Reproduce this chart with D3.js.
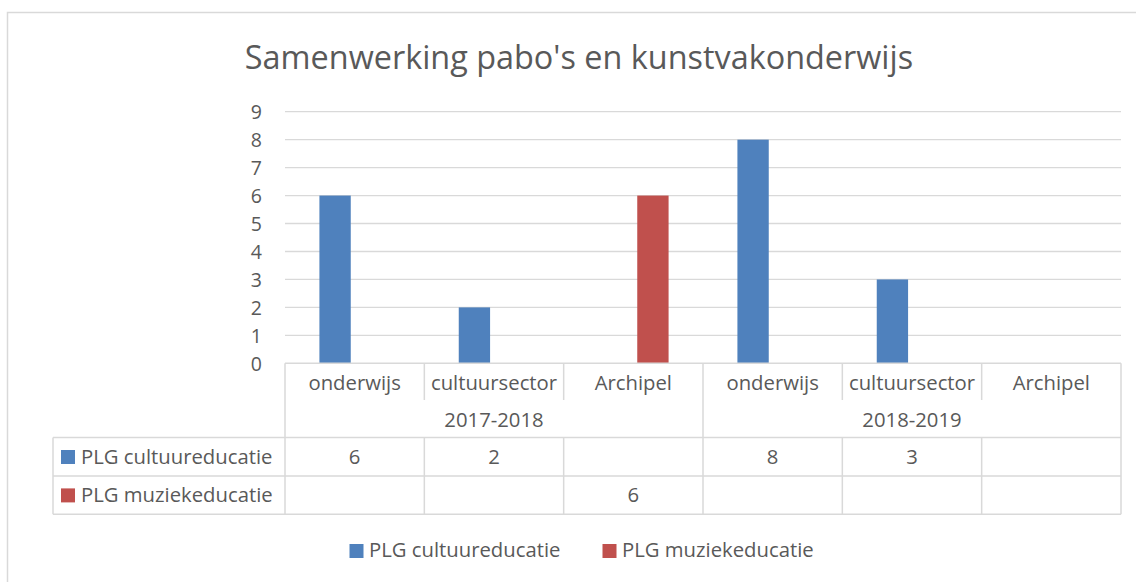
<!DOCTYPE html>
<meta charset="UTF-8">
<style>
body { margin: 0; background: #fff; }
text { font-family: "Open Sans", Lato, sans-serif; fill: #595959; }
.grid line { stroke: #d9d9d9; stroke-width: 1.3px; }
.tbl { stroke: #d9d9d9; stroke-width: 1.5px; fill: none; }
</style>
<body>
<script src="https://d3js.org/d3.v7.min.js"></script>
<script>

// chart data
var years = ["2017-2018", "2018-2019"];
var categories = ["onderwijs", "cultuursector", "Archipel", "onderwijs", "cultuursector", "Archipel"];
var seriesNames = ["PLG cultuureducatie", "PLG muziekeducatie"];
var cultuurValues = [6, 2, null, 8, 3, null];
var muziekValues = [null, null, 6, null, null, null];
var yTicks = [0, 1, 2, 3, 4, 5, 6, 7, 8, 9];
var colors = ["#4f81bd", "#c0504d"];

var seriesValues = [cultuurValues, muziekValues];

var W = 1136, H = 582;
var plot = {left: 285, right: 1121, top: 111.7, bottom: 363.3};
var fs = "20.3px";

var svg = d3.select("body").append("svg")
    .attr("width", W)
    .attr("height", H);

// chart border
svg.append("rect")
    .attr("x", 7.5).attr("y", 12.5)
    .attr("width", W + 10).attr("height", H + 10)
    .attr("fill", "none").attr("stroke", "#d9d9d9").attr("stroke-width", 1.5);

svg.append("text")
    .attr("x", 579).attr("y", 69)
    .attr("text-anchor", "middle")
    .style("font-size", "32.4px")
    .text("Samenwerking pabo's en kunstvakonderwijs");

var y = d3.scaleLinear().domain([0, 9]).range([plot.bottom, plot.top]);

var x = d3.scaleBand()
    .domain(d3.range(categories.length))
    .range([plot.left, plot.right])
    .padding(0);

var cw = x.bandwidth();
var x1 = d3.scaleBand()
    .domain(d3.range(seriesNames.length))
    .range([cw * 0.247, cw * (1 - 0.247)])
    .paddingInner(0.2);

// gridlines
svg.append("g").attr("class", "grid")
  .selectAll("line")
  .data(yTicks.slice(1))
  .join("line")
    .attr("x1", plot.left).attr("x2", plot.right)
    .attr("y1", function(d) { return y(d); })
    .attr("y2", function(d) { return y(d); });

// y axis labels
var yAxis = d3.axisLeft(y).tickValues(yTicks).tickSize(0).tickPadding(23);
var ya = svg.append("g")
    .attr("transform", "translate(" + plot.left + ",0)")
    .call(yAxis);
ya.select(".domain").remove();
ya.selectAll("text")
    .style("font-size", "19.5px")
    .attr("font-family", null)
    .attr("dy", "0.35em");

// bars
var barData = [];
seriesValues.forEach(function(vals, s) {
  vals.forEach(function(v, i) {
    if (v != null) barData.push({s: s, i: i, v: v});
  });
});

svg.append("g")
  .selectAll("rect")
  .data(barData)
  .join("rect")
    .attr("x", function(d) { return x(d.i) + x1(d.s); })
    .attr("width", x1.bandwidth())
    .attr("y", function(d) { return y(d.v); })
    .attr("height", function(d) { return y(0) - y(d.v); })
    .attr("fill", function(d) { return colors[d.s]; });

// ---- data table ----
var rowCat = [plot.bottom, 400];
var rowYear = 437.5;
var rowH = 38.4;
var tblLeft = 53;
var tbl = svg.append("g");

// horizontal lines
tbl.append("line").attr("class", "tbl")
    .attr("x1", plot.left).attr("x2", plot.right)
    .attr("y1", plot.bottom).attr("y2", plot.bottom);
[rowYear, rowYear + rowH, rowYear + 2 * rowH].forEach(function(yy) {
  tbl.append("line").attr("class", "tbl")
      .attr("x1", tblLeft).attr("x2", plot.right)
      .attr("y1", yy).attr("y2", yy);
});

// vertical lines: category boundaries
var bounds = d3.range(categories.length + 1).map(function(i) {
  return i < categories.length ? x(i) : plot.right;
});
bounds.forEach(function(bx, i) {
  var isYearEdge = (i % 3 === 0);
  tbl.append("line").attr("class", "tbl")
      .attr("x1", bx).attr("x2", bx)
      .attr("y1", plot.bottom)
      .attr("y2", isYearEdge ? rowYear + 2 * rowH : rowCat[1]);
  if (!isYearEdge) {
    tbl.append("line").attr("class", "tbl")
        .attr("x1", bx).attr("x2", bx)
        .attr("y1", rowYear).attr("y2", rowYear + 2 * rowH);
  }
});
tbl.append("line").attr("class", "tbl")
    .attr("x1", tblLeft).attr("x2", tblLeft)
    .attr("y1", rowYear).attr("y2", rowYear + 2 * rowH);

// category labels
tbl.selectAll("text.cat")
  .data(categories)
  .join("text")
    .attr("class", "cat")
    .attr("x", function(d, i) { return x(i) + cw / 2; })
    .attr("y", 390)
    .attr("text-anchor", "middle")
    .style("font-size", fs)
    .text(function(d) { return d; });

// year labels
tbl.selectAll("text.year")
  .data(years)
  .join("text")
    .attr("class", "year")
    .attr("x", function(d, i) { return x(i * 3) + cw * 1.5; })
    .attr("y", 427)
    .attr("text-anchor", "middle")
    .style("font-size", fs)
    .text(function(d) { return d; });

// series rows
seriesNames.forEach(function(name, s) {
  var ry = rowYear + s * rowH;
  tbl.append("rect")
      .attr("x", 61).attr("y", ry + 12.5)
      .attr("width", 14).attr("height", 14)
      .attr("fill", colors[s]);
  tbl.append("text")
      .attr("x", 81).attr("y", ry + 26.5)
      .style("font-size", fs)
      .text(name);
  tbl.selectAll("text.v" + s)
    .data(seriesValues[s])
    .join("text")
      .attr("class", "v" + s)
      .attr("x", function(d, i) { return x(i) + cw / 2; })
      .attr("y", ry + 26.5)
      .attr("text-anchor", "middle")
      .style("font-size", fs)
      .text(function(d) { return d == null ? "" : d; });
});

// legend
var legendX = [349.5, 602.5];
var lg = svg.append("g");
seriesNames.forEach(function(name, s) {
  lg.append("rect")
      .attr("x", legendX[s]).attr("y", 544)
      .attr("width", 14).attr("height", 14)
      .attr("fill", colors[s]);
  lg.append("text")
      .attr("x", legendX[s] + 19.5).attr("y", 557)
      .style("font-size", fs)
      .text(name);
});

</script>
</body>
